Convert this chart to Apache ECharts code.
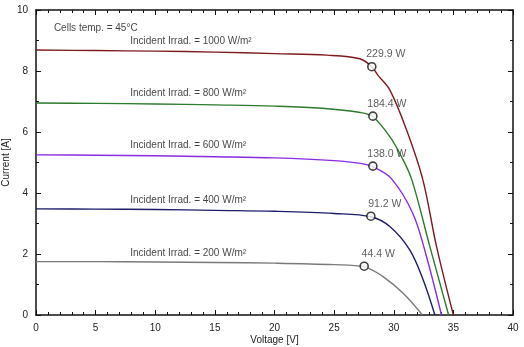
<!DOCTYPE html>
<html>
<head>
<meta charset="utf-8">
<script src="https://cdn.jsdelivr.net/npm/echarts@6/dist/echarts.min.js"></script>
<style>
  html, body { margin: 0; padding: 0; background: #fff; }
  #chart { width: 524px; height: 347px; }
</style>
</head>
<body>
<div id="chart"></div>
<script>
// I-V curves, [voltage V, current A]
var curve_1000 = [[0, 8.69], [5, 8.67], [10, 8.65], [15, 8.62], [20, 8.57], [24.4, 8.52], [27.16, 8.40], [28.16, 8.14], [28.7, 7.85], [29.67, 7.38], [31.07, 6.07], [32.44, 4.43], [33.59, 2.24], [35.0, 0]];
var curve_800 = [[0, 6.95], [5, 6.94], [10, 6.92], [15, 6.89], [20, 6.85], [24, 6.78], [27.2, 6.64], [28.25, 6.50], [29.67, 5.85], [30.65, 5.19], [31.52, 4.43], [33.03, 2.24], [34.6, 0]];
var curve_600 = [[0, 5.25], [5, 5.24], [10, 5.22], [15, 5.19], [20, 5.15], [25, 5.06], [27.2, 4.97], [28.25, 4.86], [29.8, 4.47], [31.6, 3.33], [32.75, 1.91], [34.0, 0]];
var curve_400 = [[0, 3.48], [5, 3.47], [10, 3.46], [15, 3.43], [20, 3.40], [25, 3.33], [28.08, 3.22], [29.67, 2.9], [31.35, 2.13], [32.47, 1.15], [33.45, 0]];
var curve_200 = [[0, 1.75], [5, 1.75], [10, 1.74], [15, 1.72], [20, 1.70], [25, 1.65], [27.52, 1.58], [29.1, 1.26], [30.79, 0.71], [32.4, 0]];

// maximum power points and their labels
var mpp_points = [[28.16, 8.14], [28.25, 6.52], [28.25, 4.88], [28.08, 3.24], [27.52, 1.6]];
var mpp_labels = ['229.9 W', '184.4 W', '138.0 W', '91.2 W', '44.4 W'];

// irradiance labels: [voltage, current] of text anchor
var irrad_names = ['Incident Irrad. = 1000 W/m²', 'Incident Irrad. = 800 W/m²', 'Incident Irrad. = 600 W/m²', 'Incident Irrad. = 400 W/m²', 'Incident Irrad. = 200 W/m²'];
var irrad_pos = [[7.9, 8.98], [7.9, 7.28], [7.9, 5.57], [7.9, 3.77], [7.9, 2.03]];

var colors = ['#7e1a1e', '#2c7a2c', '#8a2be2', '#1c1c6a', '#7a7a7a'];

var myChart = echarts.init(document.getElementById('chart'));

var font = 'Liberation Sans, Arial, sans-serif';
var curves = [curve_1000, curve_800, curve_600, curve_400, curve_200];

var series = [];
for (var i = 0; i < curves.length; i++) {
    series.push({
        type: 'line',
        data: curves[i],
        smooth: 0.35,
        showSymbol: false,
        lineStyle: { color: colors[i], width: 1.4 },
        z: 2
    });
}

// power markers
series.push({
    type: 'scatter',
    data: mpp_points.map(function (p, i) { return { value: p, name: mpp_labels[i] }; }),
    symbol: 'circle',
    symbolSize: 8,
    itemStyle: { color: '#fff', borderColor: '#111', borderWidth: 1.6 },
    label: {
        show: true,
        position: 'top',
        offset: [14, 3],
        formatter: function (p) { return p.name; },
        fontFamily: font,
        fontSize: 10.5,
        color: '#333'
    },
    z: 5
});

// irradiance text labels
series.push({
    type: 'scatter',
    data: irrad_pos.map(function (p, i) { return { value: p, name: irrad_names[i] }; }),
    symbolSize: 0,
    label: {
        show: true,
        position: 'right',
        distance: 0,
        formatter: function (p) { return p.name; },
        fontFamily: font,
        fontSize: 10,
        color: '#111'
    },
    silent: true,
    z: 4
});

// cells temperature
series.push({
    type: 'scatter',
    data: [{ value: [1.5, 9.4], name: 'Cells temp. = 45°C' }],
    symbolSize: 0,
    label: {
        show: true,
        position: 'right',
        distance: 0,
        formatter: function (p) { return p.name; },
        fontFamily: font,
        fontSize: 10,
        color: '#111'
    },
    silent: true
});

var axisCommon = {
    type: 'value',
    nameMoveOverlap: false,
    axisLine: { show: true, onZero: false, lineStyle: { color: '#111', width: 1.5 } },
    axisTick: { show: true, inside: true, length: 5, lineStyle: { color: '#111' } },
    minorTick: { show: true, length: 3, lineStyle: { color: '#111' } },
    splitLine: { show: false },
    axisLabel: { fontFamily: font, fontSize: 10, color: '#222' }
};

var option = {
    backgroundColor: '#fff',
    animation: false,
    grid: { left: 36, right: 11, top: 10, bottom: 32, outerBoundsMode: 'none', containLabel: false },
    xAxis: [
        echarts.util.merge({
            position: 'bottom', min: 0, max: 40, interval: 5,
            minorTick: { splitNumber: 5 },
            name: 'Voltage [V]', nameLocation: 'middle', nameGap: 20,
            nameTextStyle: { fontFamily: font, fontSize: 10, color: '#222' }
        }, axisCommon, false),
        echarts.util.merge({
            position: 'top', min: 0, max: 40, interval: 5,
            minorTick: { splitNumber: 5 },
            axisLabel: { show: false }
        }, axisCommon, false)
    ],
    yAxis: [
        echarts.util.merge({
            position: 'left', min: 0, max: 10, interval: 2,
            minorTick: { splitNumber: 2 },
            name: 'Current [A]', nameLocation: 'middle', nameGap: 25,
            nameTextStyle: { fontFamily: font, fontSize: 10, color: '#222' }
        }, axisCommon, false),
        echarts.util.merge({
            position: 'right', min: 0, max: 10, interval: 2,
            minorTick: { splitNumber: 2 },
            axisLabel: { show: false }
        }, axisCommon, false)
    ],
    series: series
};

myChart.setOption(option);
</script>
</body>
</html>
